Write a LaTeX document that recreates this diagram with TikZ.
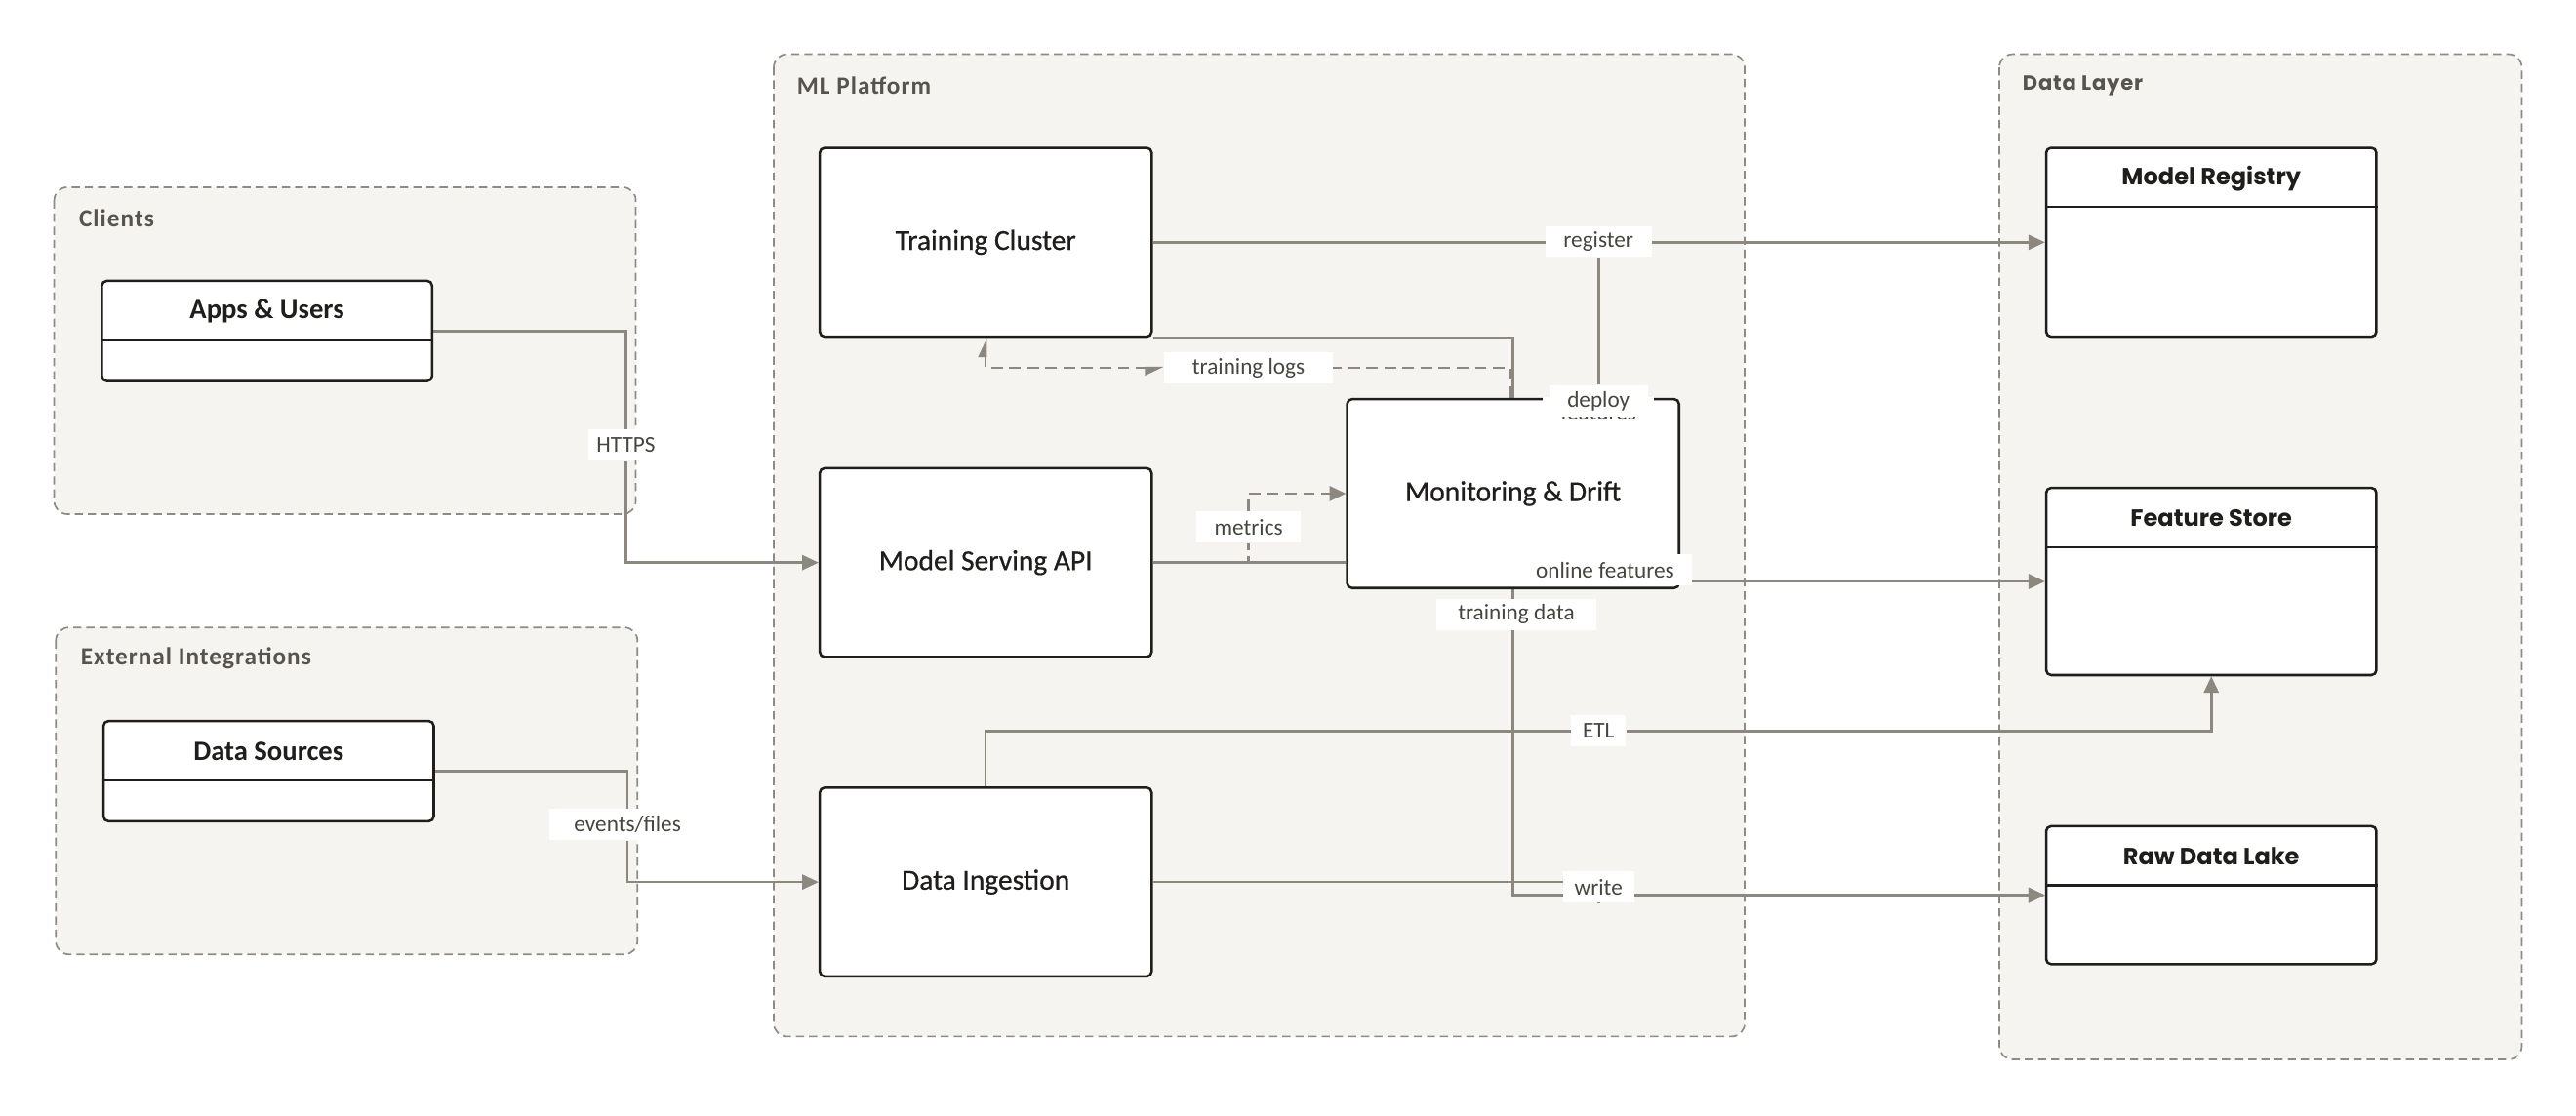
\documentclass[tikz,border=0pt]{standalone}
\usepackage{fontspec}
\setmainfont{Carlito}
\newfontfamily\medface[FakeBold=0.6]{Carlito}
\newfontfamily\grpface[LetterSpace=4]{Carlito}
\newfontfamily\wideface{Poppins}
\newfontfamily\widegrp[LetterSpace=4]{Poppins}
\usetikzlibrary{positioning,calc,arrows.meta}
\definecolor{grpfill}{HTML}{F5F4F0}
\definecolor{grpline}{HTML}{8E8B84}
\definecolor{grptext}{HTML}{57544E}
\definecolor{boxline}{HTML}{1F1E1C}
\definecolor{edgecol}{HTML}{8C8880}
\definecolor{lbltext}{HTML}{47453F}
\pgfdeclarelayer{bg}
\pgfdeclarelayer{edges}
\pgfdeclarelayer{fg}
\pgfsetlayers{bg,edges,main,fg}
\tikzset{
  grp/.style={draw=grpline, fill=grpfill, line width=1pt, dash pattern=on 5pt off 3pt, rounded corners=8pt},
  grptitle/.style={anchor=west, inner sep=0pt, text=grptext, font=\grpface\bfseries\fontsize{15}{17}\selectfont},
  box/.style={draw=boxline, fill=white, line width=1.5pt, rounded corners=3pt, inner sep=0pt,
    minimum width=202pt, minimum height=115pt, text=boxline, font=\medface\fontsize{17.5}{20}\selectfont},
  cbox/.style={draw=boxline, fill=white, line width=1.5pt, rounded corners=3pt, inner sep=0pt, minimum width=201pt},
  edge/.style={draw=edgecol, line width=1.5pt, -{Triangle[length=10pt,width=9pt]}},
  dedge/.style={edge, dash pattern=on 7pt off 4pt},
  lbl/.style={fill=white, text=lbltext, inner xsep=11pt, inner ysep=0pt, minimum height=19pt,
    font=\fontsize{13.8}{15}\selectfont}
}
% compartment box: name, x, top, bottom, title
\newcommand{\compbox}[5]{%
  \node[cbox, minimum height={(#4-#3)*1pt}] (#1) at (#2,{(#3+#4)/2}) {};
  \draw[draw=boxline, line width=1.2pt] (#1.west |- 0,{#3+36}) -- (#1.east |- 0,{#3+36});
  \node[inner sep=0pt, text=boxline] (#1-t) at (#2,{#3+18.5}) {#5};}

\begin{document}
\begin{tikzpicture}[x=1pt,y=-1pt]
  \useasboundingbox (0,0) rectangle (1568,679);
  % ------------------------------------------------------------------ groups
  \begin{pgfonlayer}{bg}
    \draw[grp] (33,114) rectangle (387,313);
    \node[grptitle] (clients) at (48,133) {Clients};
    \draw[grp] (34,382) rectangle (388,581);
    \node[grptitle] (extint) at (49,401) {External Integrations};
    \draw[grp] (471,33) rectangle (1062,631);
    \node[grptitle] (mlplat) at (485,52) {ML Platform};
    \draw[grp] (1217,33) rectangle (1535,645);
    \node[grptitle, font=\widegrp\bfseries\fontsize{12.5}{14}\selectfont] (datalayer) at (1231,52) {Data Layer};
  \end{pgfonlayer}
  % ------------------------------------------------------------------ components
  \compbox{au}{162.5}{171}{232}{\bfseries\fontsize{17}{19}\selectfont Apps \& Users}
  \compbox{ds}{163.5}{439}{500}{\bfseries\fontsize{17}{19}\selectfont Data Sources}
  \node[box] (tc) at (600,147.5) {Training Cluster};
  \node[box] (api) at (600,342.5) {Model Serving API};
  \node[box] (di) at (600,537) {Data Ingestion};
  \node[box] (mon) at (921,300.5) {Monitoring \& Drift};
  \compbox{mr}{1346}{90}{205}{\wideface\bfseries\fontsize{14.3}{16}\selectfont Model Registry}
  \compbox{fs}{1346}{297}{411}{\wideface\bfseries\fontsize{14.3}{16}\selectfont Feature Store}
  \compbox{rdl}{1346}{503}{587}{\wideface\bfseries\fontsize{14.3}{16}\selectfont Raw Data Lake}
  % ------------------------------------------------------------------ labels
  \begin{pgfonlayer}{fg}
    \node[lbl, inner xsep=5pt] (https) at (381,271) {HTTPS};
    \node[lbl, inner xsep=15pt] (evf) at (382,502) {events/files};
    \node[lbl] (reg) at (973,147) {register};
    \node[lbl] (feat) at (973,251) {features};
    \node[lbl] (dep) at (973,244) {deploy};
    \node[lbl, inner xsep=17pt] (logs) at (760,224) {training logs};
    \node[lbl] (met) at (760,321) {metrics};
    \node[lbl] (onl) at (977,347) {online features};
    \node[lbl, inner xsep=13pt] (tdat) at (923,374) {training data};
    \node[lbl, inner xsep=7pt] (etl) at (973,445) {ETL};
    \node[lbl, inner xsep=7pt] (wr) at (973,540) {write};
  \end{pgfonlayer}
  % ------------------------------------------------------------------ connectors
  \begin{pgfonlayer}{edges}
    \draw[edge] (au.east) -| (https) |- (api.west);
    \draw[edge] (ds.east) -| (evf) |- (di.west);
    \draw[edge] (tc.east) -- (mr.west);
    \draw[edge, -] (reg) -- (dep);
    \draw[edge] (tc.south east) -| (mon.center) |- (rdl.west);
    \draw[dedge, {Triangle[length=10pt,width=9pt,right]}-{Triangle[length=10pt,width=9pt,left]}] ([xshift=-1.5pt]mon.north) |- (logs) -| (tc.south);
    \draw[edge, -] (api.east) -- (api.east -| mon.west);
    \draw[dedge] (api.east) -| (met) |- (mon.west);
    \draw[edge] (fs.west -| mon.east) -- (fs.west);
    \draw[edge] (di.north) |- (etl) -| (fs.south);
    \draw[edge] (di.east) -| (wr) |- (rdl.west);
  \end{pgfonlayer}
\end{tikzpicture}
\end{document}
